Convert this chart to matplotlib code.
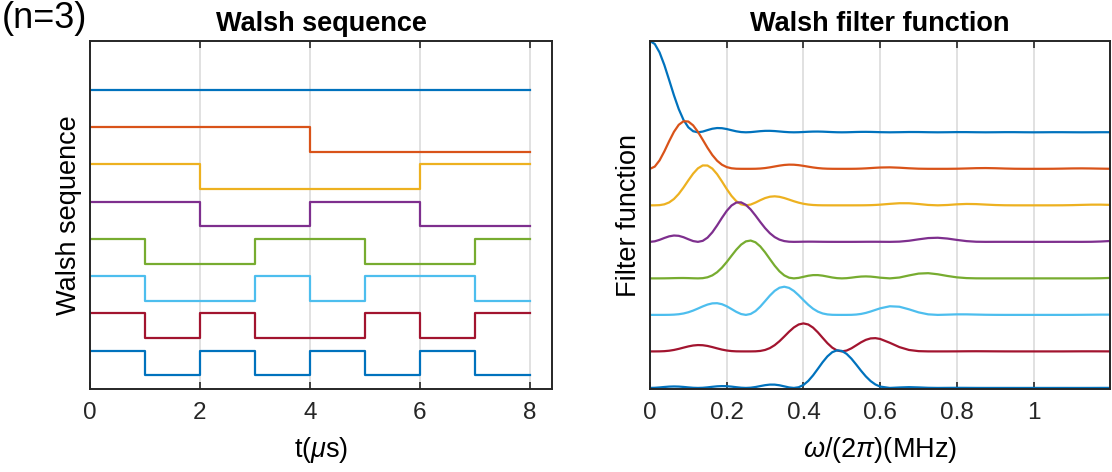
import numpy as np
import matplotlib
matplotlib.use("Agg")
import matplotlib.pyplot as plt

# fonts close to the MATLAB look (Helvetica/Arial)
plt.rcParams['font.family'] = ['Liberation Sans', 'DejaVu Sans']
plt.rcParams['mathtext.fontset'] = 'custom'
plt.rcParams['mathtext.rm'] = 'Liberation Sans'
plt.rcParams['mathtext.it'] = 'Liberation Sans:italic'

# ---------------- data ----------------
# Walsh sequences (n=3), value in each 1 us slot, sequency order
t_edges = [0, 1, 2, 3, 4, 5, 6, 7, 8]
walsh_0 = [1, 1, 1, 1, 1, 1, 1, 1]
walsh_1 = [1, 1, 1, 1, -1, -1, -1, -1]
walsh_2 = [1, 1, -1, -1, -1, -1, 1, 1]
walsh_3 = [1, 1, -1, -1, 1, 1, -1, -1]
walsh_4 = [1, -1, -1, 1, 1, -1, -1, 1]
walsh_5 = [1, -1, -1, 1, -1, 1, 1, -1]
walsh_6 = [1, -1, 1, -1, -1, 1, -1, 1]
walsh_7 = [1, -1, 1, -1, 1, -1, 1, -1]
walsh = [walsh_0, walsh_1, walsh_2, walsh_3, walsh_4, walsh_5, walsh_6, walsh_7]

# filter functions (normalised, peak of first = 1), read every 0.025 MHz from 0 to 1.2
freq = np.arange(49) * 0.025
filt_0 = [1, .8751, .5728, .2546, .0547, 0, .0243, .0468, .0358, .0108, 0, .0072, .0159,
          .0136, .0045, 0, .0034, .0079, .0071, .0024, 0, .0020, .0047, .0043, .0015, 0,
          .0013, .0031, .0029, .0010, 0, .0009, .0022, .0021, .0008, 0, .0007, .0017, .0016,
          .0006, 0, .0005, .0013, .0012, .0005, 0, .0004, .0010, .0010]
filt_1 = [0, .0924, .3024, .4823, .5181, .4053, .2303, .0886, .0189, .0011, 0, .0008, .0084,
          .0257, .0423, .0450, .0324, .0150, .0037, .0003, 0, .0002, .0025, .0082, .0144, .0162,
          .0123, .0060, .0015, .0001, 0, .0001, .0012, .0040, .0072, .0083, .0064, .0032, .0008,
          .0001, 0, .0001, .0007, .0023, .0043, .0050, .0039, .0020, .0005]
filt_2 = [0, .0023, .0319, .1252, .2735, .4053, .4362, .3412, .1790, .0455, 0, .0304, .0796,
          .0989, .0801, .0450, .0171, .0039, .0004, 0, 0, 0, .0003, .0021, .0076, .0162,
          .0232, .0229, .0146, .0044, 0, .0038, .0112, .0153, .0136, .0083, .0034, .0008, .0001,
          0, 0, 0, .0001, .0006, .0023, .0050, .0074, .0076, .0050]
filt_3 = [0, .0220, .0605, .0661, .0289, 0, .0461, .1801, .3391, .4307, .4053, .2883, .1507,
          .0522, .0085, 0, .0018, .0021, .0007, .0001, 0, 0, .0005, .0011, .0008, 0,
          .0025, .0121, .0277, .0415, .0450, .0363, .0212, .0081, .0014, 0, .0004, .0004, .0002,
          0, 0, 0, .0001, .0003, .0002, 0, .0008, .0040, .0094]
filt_4 = [0, .0001, .0015, .0038, .0030, 0, .0120, .0676, .1790, .3142, .4053, .3952, .2855,
          .1391, .0326, 0, .0171, .0357, .0298, .0098, 0, .0080, .0199, .0195, .0076, 0,
          .0094, .0322, .0524, .0569, .0450, .0265, .0112, .0030, .0004, 0, 0, 0, 0,
          0, 0, 0, 0, 0, 0, 0, .0002, .0015, .0050]
filt_5 = [0, 0, .0008, .0072, .0289, .0695, .1132, .1281, .0945, .0332, 0, .0417, .1507,
          .2634, .3086, .2625, .1619, .0676, .0157, .0010, 0, .0008, .0105, .0370, .0720, .0945,
          .0895, .0611, .0277, .0060, 0, .0028, .0059, .0058, .0035, .0014, .0004, 0, 0,
          0, 0, 0, 0, 0, .0002, .0009, .0019, .0028, .0026]
filt_6 = [0, .0006, .0076, .0278, .0547, .0695, .0598, .0333, .0100, .0008, 0, .0010, .0159,
          .0684, .1629, .2625, .3067, .2606, .1488, .0413, 0, .0338, .0996, .1424, .1363, .0945,
          .0472, .0159, .0029, .0002, 0, .0001, .0006, .0015, .0019, .0014, .0007, .0002, 0,
          0, 0, 0, 0, 0, .0005, .0009, .0010, .0007, .0003]
filt_7 = [0, .0054, .0144, .0147, .0058, 0, .0063, .0176, .0189, .0079, 0, .0099, .0301,
          .0361, .0172, 0, .0324, .1375, .2819, .3914, .4053, .3204, .1887, .0751, .0144, 0,
          .0050, .0084, .0055, .0014, 0, .0007, .0012, .0008, .0002, 0, .0001, .0001, 0,
          0, 0, 0, 0, .0001, 0, 0, .0001, .0004, .0005]

# extra readings half way between, from 0.0125 to 0.5875 MHz (where the peaks are)
freq_mid = 0.0125 + np.arange(24) * 0.025
mid_0 = [.9675, .7368, .4053, .1353, .0119, .0080, .0392, .0450, .0229, .0027, .0022, .0125,
         .0162, .0091, .0012, .0010, .0061, .0083, .0048, .0006, .0006, .0036, .0050, .0030]
mid_1 = [.0243, .1913, .4053, .5213, .4762, .3188, .1511, .0450, .0060, .0001, .0001, .0033,
         .0162, .0350, .0459, .0401, .0235, .0083, .0013, 0, 0, .0009, .0050, .0116]
mid_2 = [.0002, .0110, .0695, .1958, .3473, .4370, .4025, .2625, .1034, .0109, .0089, .0565,
         .0945, .0933, .0629, .0293, .0088, .0014, .0001, 0, 0, .0001, .0009, .0043]
mid_3 = [.0060, .0425, .0695, .0508, .0087, .0110, .1045, .2625, .3981, .4327, .3542, .2175,
         .0945, .0242, .0016, .0007, .0023, .0014, .0003, 0, 0, .0002, .0009, .0011]
mid_4 = [0, .0006, .0028, .0040, .0012, .0023, .0328, .1172, .2474, .3697, .4145, .3500,
         .2116, .0772, .0074, .0054, .0288, .0359, .0199, .0026, .0023, .0148, .0217, .0142]
mid_5 = [0, .0002, .0028, .0156, .0473, .0929, .1262, .1172, .0642, .0093, .0104, .0909,
         .2116, .2975, .2958, .2151, .1107, .0359, .0052, .0001, .0001, .0038, .0217, .0546]
mid_6 = [0, .0027, .0160, .0415, .0648, .0677, .0474, .0201, .0037, .0001, .0001, .0052,
         .0363, .1117, .2158, .2949, .2949, .2090, .0898, .0103, .0094, .0665, .1265, .1454]
mid_7 = [.0015, .0103, .0160, .0108, .0016, .0017, .0123, .0201, .0143, .0023, .0026, .0202,
         .0363, .0290, .0054, .0074, .0766, .2090, .3458, .4121, .3728, .2560, .1265, .0377]

filt = [filt_0, filt_1, filt_2, filt_3, filt_4, filt_5, filt_6, filt_7]
mids = [mid_0, mid_1, mid_2, mid_3, mid_4, mid_5, mid_6, mid_7]

# MATLAB default colour order (cycles back to blue for the 8th line)
colors = ['#0072BD', '#D95319', '#EDB120', '#7E2F8E', '#77AC30', '#4DBEEE', '#A2142F', '#0072BD']

# ---------------- figure ----------------
fig = plt.figure(figsize=(11.12, 4.72), dpi=100)
ax1 = fig.add_axes([0.0809, 0.1758, 0.4155, 0.7373])
ax2 = fig.add_axes([0.5845, 0.1758, 0.4141, 0.7373])

# left: Walsh sequences, stacked
for k, row in enumerate(walsh):
    y = np.array(row + [row[-1]]) - 3 * k
    ax1.step(t_edges, y, where='post', color=colors[k], lw=1.6)
ax1.set_xlim(0, 8.4)
ax1.set_ylim(-23.1, 4.95)
ax1.set_xticks([0, 2, 4, 6, 8])
ax1.set_yticks([])
ax1.set_title('Walsh sequence', fontsize=19.5, fontweight='bold', pad=7)
ax1.set_xlabel(r't($\mu$s)', fontsize=19.5, labelpad=8)
ax1.set_ylabel('Walsh sequence', fontsize=19.5, labelpad=6)

# right: filter functions, stacked (coarse + half-step readings merged in order)
f_all = np.concatenate([freq, freq_mid])
order = np.argsort(f_all)
for k in range(8):
    vals = np.concatenate([filt[k], mids[k]])[order]
    ax2.plot(f_all[order], vals + 0.4 * (7 - k), color=colors[k], lw=1.6,
             solid_joinstyle='round')
ax2.set_xlim(0, 1.2)
ax2.set_ylim(-0.012, 3.8)
ax2.set_xticks([0, 0.2, 0.4, 0.6, 0.8, 1])
ax2.set_xticklabels(['0', '0.2', '0.4', '0.6', '0.8', '1'])
ax2.set_yticks([])
ax2.set_title('Walsh filter function', fontsize=19.5, fontweight='bold', pad=7)
ax2.set_xlabel(r'$\omega$/(2$\pi$)(MHz)', fontsize=19.5, labelpad=8)
ax2.set_ylabel('Filter function', fontsize=19.5, labelpad=6)

for ax in (ax1, ax2):
    ax.grid(axis='x', color='#dedede', lw=1.3)
    ax.set_axisbelow(True)
    ax.tick_params(direction='in', top=True, length=5, width=1.2, labelsize=17.5, pad=9,
                   colors='#262626')
    for sp in ax.spines.values():
        sp.set_linewidth(1.4)
        sp.set_color('#262626')

fig.text(0.002, 0.998, '(n=3)', fontsize=26, ha='left', va='top')

fig.savefig('out.png', dpi=100)
